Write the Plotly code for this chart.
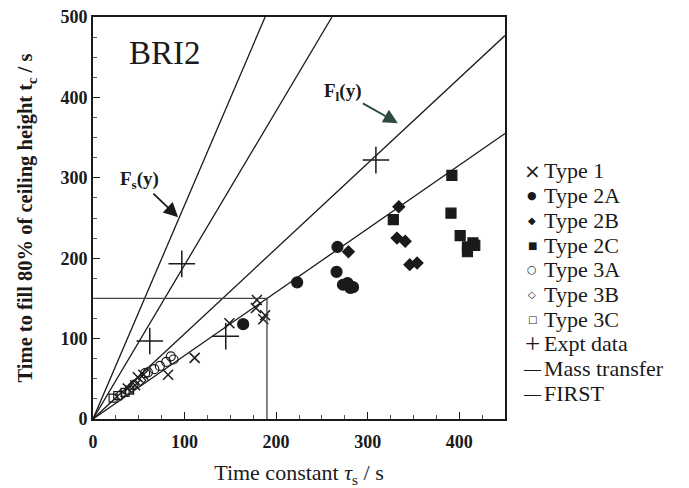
import plotly.graph_objects as go

# ---- data ----
type1_x = [38, 46, 49, 55, 82, 111, 149, 179, 178, 188, 186]
type1_y = [38, 42, 52, 55, 55, 76, 119, 148, 138, 129, 124]

type2a_x = [164, 223, 267, 266, 273, 281, 284, 278]
type2a_y = [118, 170, 214, 183, 167, 163, 164, 169]

type2b_x = [279, 334, 332, 341, 346, 354]
type2b_y = [208, 264, 225, 221, 192, 194]

type2c_x = [328, 392, 391, 401, 409, 415, 409, 417]
type2c_y = [248, 303, 256, 228, 214, 219, 208, 216]

type3a_x = [60, 67, 73, 80, 85, 88, 57]
type3a_y = [58, 62, 66, 71, 78, 74, 57]

type3b_x = [30, 44, 52]
type3b_y = [30, 42, 48]

type3c_x = [22, 27, 35, 40]
type3c_y = [26, 29, 33, 36]

expt_x = [62, 97, 145, 309]
expt_y = [97, 193, 103, 322]

# lines through origin: end points
mass_x = [[0, 188], [0, 450]]
mass_y = [[0, 500], [0, 477]]
first_x = [[0, 261], [0, 450]]
first_y = [[0, 500], [0, 355]]

# reading guide (80% example)
guide_x = [0, 190, 190]
guide_y = [150, 150, 0]

x_ticks = [0, 100, 200, 300, 400]
y_ticks = [0, 100, 200, 300, 400, 500]

legend_names = ["Type 1", "Type 2A", "Type 2B", "Type 2C", "Type 3A", "Type 3B",
                "Type 3C", "Expt data", "Mass transfer", "FIRST"]
legend_glyphs = ["×", "●", "◆", "■", "○", "◇", "□", "+", "—", "—"]
legend_glyph_sizes = [20, 11, 10, 10, 11, 10, 10, 27, 17, 17]

SERIF = "Liberation Serif, Times New Roman, serif"
BLACK = "#1a1a1a"

fig = go.Figure()

def pts(name, xs, ys, symbol, size, width=1.2):
    fig.add_trace(go.Scatter(
        x=xs, y=ys, mode="markers", name=name, showlegend=False,
        marker=dict(symbol=symbol, size=size, color=BLACK,
                    line=dict(color=BLACK, width=width)),
    ))

pts("Type 1", type1_x, type1_y, "x-thin-open", 10, 1.5)
pts("Type 2A", type2a_x, type2a_y, "circle", 11)
pts("Type 2B", type2b_x, type2b_y, "diamond", 9)
pts("Type 2C", type2c_x, type2c_y, "square", 10)
pts("Type 3A", type3a_x, type3a_y, "circle-open", 9)
pts("Type 3B", type3b_x, type3b_y, "diamond-open", 8)
pts("Type 3C", type3c_x, type3c_y, "square-open", 8)
pts("Expt data", expt_x, expt_y, "cross-thin-open", 19, 1.5)

for xs, ys in zip(mass_x, mass_y):
    fig.add_trace(go.Scatter(x=xs, y=ys, mode="lines", name="Mass transfer",
                             line=dict(color=BLACK, width=1.3), showlegend=False))
for xs, ys in zip(first_x, first_y):
    fig.add_trace(go.Scatter(x=xs, y=ys, mode="lines", name="FIRST",
                             line=dict(color=BLACK, width=1.3), showlegend=False))

fig.add_trace(go.Scatter(x=guide_x, y=guide_y, mode="lines", showlegend=False,
                         line=dict(color="#444444", width=1.3), hoverinfo="skip"))

axis_common = dict(
    showgrid=False, zeroline=False, showline=True, linecolor=BLACK, linewidth=1.8,
    mirror=True, ticks="inside", ticklen=7, tickwidth=1.2, tickcolor=BLACK,
    minor=dict(ticks="inside", ticklen=4, tickwidth=1, tickcolor="#555555", dtick=25),
    tickfont=dict(family=SERIF, size=18, color=BLACK, weight="bold"),
    automargin=False,
)

fig.update_xaxes(range=[0, 450], tickvals=x_ticks, ticklabelstandoff=5, **axis_common,
                 title=dict(text="Time constant <i>τ</i><sub>s</sub> / s",
                            font=dict(family=SERIF, size=22, color=BLACK), standoff=22))
fig.update_yaxes(range=[0, 500], tickvals=y_ticks, **axis_common,
                 title=dict(text="Time to fill 80% of ceiling height t<sub>c</sub> / s",
                            font=dict(family=SERIF, size=20.5, color=BLACK, weight="bold"),
                            standoff=22))

fig.add_annotation(x=37, y=455, xref="x", yref="y", text="BRI2", showarrow=False,
                   xanchor="left", yanchor="middle",
                   font=dict(family=SERIF, size=33, color=BLACK))
fig.add_annotation(x=93, y=251, xref="x", yref="y", ax=-39, ay=-37,
                   text="F<sub>s</sub>(y)", showarrow=True, arrowhead=2, arrowsize=1.6,
                   arrowwidth=1.8, arrowcolor=BLACK, standoff=0,
                   font=dict(family=SERIF, size=19, color=BLACK, weight="bold"))
fig.add_annotation(x=333, y=368, xref="x", yref="y", ax=-55, ay=-31,
                   text="F<sub>l</sub>(y)", showarrow=True, arrowhead=2, arrowsize=1.6,
                   arrowwidth=1.8, arrowcolor="#2c4a3e", standoff=0,
                   font=dict(family=SERIF, size=19, color=BLACK, weight="bold"))

# hand-set legend (text glyphs, as in the scanned original)
PLOT_L, PLOT_W, PLOT_T, PLOT_H = 93, 412, 17, 402
row0, step = 171, 24.7
for i, (name, glyph, gs) in enumerate(zip(legend_names, legend_glyphs, legend_glyph_sizes)):
    py = row0 + i * step
    yp = 1 - (py - PLOT_T) / PLOT_H
    gx = (532 - PLOT_L) / PLOT_W
    tx = (542 - PLOT_L) / PLOT_W
    gfam = SERIF if glyph in ("+", "—") else "DejaVu Sans"
    fig.add_annotation(x=gx, y=yp, xref="paper", yref="paper", text=glyph,
                       showarrow=False, xanchor="center", yanchor="middle",
                       font=dict(family=gfam, size=gs, color=BLACK))
    fig.add_annotation(x=tx, y=yp, xref="paper", yref="paper", text=name,
                       showarrow=False, xanchor="left", yanchor="middle",
                       font=dict(family=SERIF, size=22, color=BLACK))

fig.update_layout(
    width=689, height=488,
    margin=dict(l=93, r=184, t=17, b=69, autoexpand=False),
    paper_bgcolor="white", plot_bgcolor="white",
    showlegend=False,
)

fig.write_html("out.html")
